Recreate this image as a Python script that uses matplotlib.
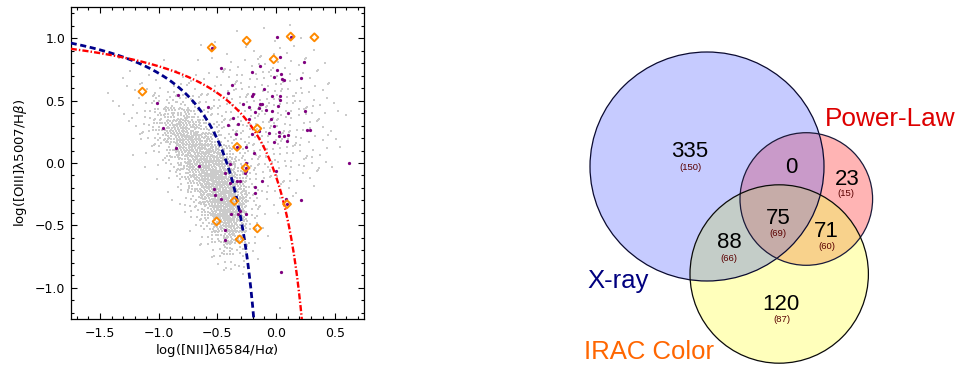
import numpy as np
import matplotlib
matplotlib.use("Agg")
import matplotlib.pyplot as plt
from matplotlib.patches import Ellipse, Polygon
from matplotlib.ticker import MultipleLocator

plt.rcParams["font.family"] = ["DejaVu Sans"]
plt.rcParams["mathtext.fontset"] = "custom"
plt.rcParams["mathtext.rm"] = "DejaVu Sans"
plt.rcParams["mathtext.it"] = "DejaVu Sans:italic"

# ---------------------------------------------------------------- BPT data
# background emission-line galaxies: counts per 0.1 x 0.1 dex cell
cloud_x = [-1.7, -1.6, -1.5, -1.4, -1.3, -1.2, -1.1, -1.0, -0.9, -0.8, -0.7, -0.6, -0.5,
           -0.4, -0.3, -0.2, -0.1, 0.0, 0.1, 0.2, 0.3, 0.4, 0.5, 0.6, 0.7]
cloud_y = [1.2, 1.1, 1.0, 0.9, 0.8, 0.7, 0.6, 0.5, 0.4, 0.3, 0.2, 0.1, 0.0,
           -0.1, -0.2, -0.3, -0.4, -0.5, -0.6, -0.7, -0.8, -0.9, -1.0, -1.1, -1.2]
cloud_counts = [
    [0, 0, 0, 0, 0, 0, 0, 0, 0, 0, 0, 0, 0, 0, 0, 0, 0, 0, 0, 0, 0, 0, 0, 0, 0],
    [0, 0, 0, 0, 0, 0, 0, 0, 0, 0, 0, 0, 0, 0, 1, 0, 1, 0, 1, 0, 0, 0, 0, 0, 0],
    [0, 0, 0, 0, 0, 0, 0, 0, 0, 0, 0, 0, 1, 0, 0, 1, 0, 1, 0, 1, 0, 0, 0, 0, 0],
    [0, 0, 0, 0, 0, 0, 0, 0, 0, 0, 0, 1, 0, 1, 1, 2, 1, 2, 1, 1, 1, 0, 0, 0, 0],
    [0, 0, 0, 0, 1, 0, 0, 1, 0, 0, 1, 0, 1, 2, 2, 2, 3, 2, 2, 2, 1, 1, 0, 0, 0],
    [0, 0, 0, 0, 1, 1, 1, 1, 1, 1, 2, 2, 2, 3, 3, 3, 3, 3, 3, 2, 2, 1, 0, 0, 0],
    [0, 0, 0, 1, 1, 2, 2, 2, 3, 3, 2, 3, 3, 3, 4, 4, 4, 4, 3, 3, 2, 2, 1, 0, 0],
    [0, 0, 0, 1, 1, 2, 3, 5, 8, 8, 5, 4, 4, 4, 4, 4, 5, 5, 4, 3, 3, 2, 1, 0, 0],
    [0, 0, 0, 0, 1, 2, 4, 10, 18, 18, 12, 7, 5, 4, 4, 5, 5, 5, 4, 3, 3, 2, 1, 1, 0],
    [0, 0, 0, 0, 1, 1, 4, 12, 26, 32, 24, 13, 7, 5, 5, 5, 5, 5, 4, 3, 3, 2, 1, 0, 0],
    [0, 0, 0, 0, 0, 1, 3, 8, 22, 36, 38, 27, 13, 7, 5, 5, 5, 5, 4, 3, 2, 2, 1, 0, 0],
    [0, 0, 0, 0, 0, 1, 2, 4, 12, 30, 42, 42, 30, 13, 7, 5, 5, 4, 4, 3, 2, 2, 1, 0, 0],
    [0, 0, 0, 0, 0, 0, 1, 2, 6, 18, 38, 50, 48, 28, 11, 6, 5, 5, 4, 3, 3, 2, 1, 0, 0],
    [0, 0, 0, 0, 0, 0, 0, 1, 3, 10, 28, 50, 56, 42, 16, 6, 4, 3, 3, 2, 2, 1, 0, 0, 0],
    [0, 0, 0, 0, 0, 0, 0, 0, 1, 5, 15, 40, 56, 56, 26, 6, 3, 2, 2, 1, 1, 0, 0, 0, 0],
    [0, 0, 0, 0, 0, 0, 0, 0, 1, 3, 8, 28, 52, 58, 32, 7, 2, 2, 1, 0, 0, 0, 0, 0, 0],
    [0, 0, 0, 0, 0, 0, 0, 0, 0, 1, 5, 15, 42, 54, 30, 5, 2, 1, 0, 0, 0, 0, 0, 0, 0],
    [0, 0, 0, 0, 0, 0, 0, 0, 0, 0, 2, 8, 26, 44, 24, 4, 1, 0, 0, 0, 0, 0, 0, 0, 0],
    [0, 0, 0, 0, 0, 0, 0, 0, 0, 0, 0, 4, 13, 30, 16, 3, 1, 0, 0, 0, 0, 0, 0, 0, 0],
    [0, 0, 0, 0, 0, 0, 0, 0, 0, 0, 0, 1, 5, 13, 7, 2, 0, 1, 0, 0, 0, 0, 0, 0, 0],
    [0, 0, 0, 0, 0, 0, 0, 0, 0, 0, 0, 0, 2, 5, 3, 1, 0, 0, 0, 0, 0, 0, 0, 0, 0],
    [0, 0, 0, 0, 0, 0, 0, 0, 0, 0, 0, 0, 0, 1, 1, 0, 0, 0, 0, 0, 0, 0, 0, 0, 0],
    [0, 0, 0, 0, 0, 0, 0, 0, 0, 0, 0, 0, 0, 0, 0, 0, 0, 0, 0, 0, 0, 0, 0, 0, 0],
    [0, 0, 0, 0, 0, 0, 0, 0, 0, 0, 0, 0, 0, 0, 0, 0, 0, 0, 0, 0, 0, 0, 0, 0, 0],
    [0, 0, 0, 0, 0, 0, 0, 0, 0, 0, 0, 0, 0, 0, 0, 0, 0, 0, 0, 0, 0, 0, 0, 0, 0],
]

# AGN candidates (log [NII]/Ha, log [OIII]/Hb)
agn_x = [0.006, 0.037, 0.241, -0.134, 0.006, -0.205, 0.045, 0.048, 0.071, 0.210,
         -0.020, -0.469, -0.378, -0.409, -0.193, -0.207, -0.037, 0.031, -0.102, 0.031,
         -0.284, -0.134, -0.119, 0.020, -0.148, -0.227, -0.085, -0.037, -0.182, 0.105,
         0.244, -0.364, -0.043, -0.230, -0.321, -0.406, -0.017, 0.261, 0.293, 0.028,
         -0.142, 0.102, -0.057, 0.065, 0.023, -0.341, -0.207, -0.014, 0.091, -0.188,
         0.625, -0.256, -0.389, -0.855, -0.653, -0.256, -0.438, -0.261, -0.330, -0.310,
         -0.389, -0.119, -0.176, -0.182, -0.526, -0.523, -0.466, -0.307, -0.381, -0.327,
         -0.256, -0.438, -0.438, -0.832, -1.017, -0.577, -0.960, 0.000, 0.216, 0.088,
         0.040, -0.259, -0.548, 0.125, -0.332, -0.259, 0.094]
agn_y = [1.007, 0.850, 0.807, 0.775, 0.748, 0.730, 0.716, 0.676, 0.668, 0.682,
         0.690, 0.764, 0.623, 0.562, 0.556, 0.540, 0.535, 0.535, 0.591, 0.503,
         0.474, 0.471, 0.471, 0.460, 0.444, 0.452, 0.428, 0.415, 0.412, 0.404,
         0.418, 0.359, 0.351, 0.351, 0.311, 0.303, 0.295, 0.268, 0.268, 0.249,
         0.255, 0.223, 0.239, 0.215, 0.217, 0.231, 0.231, 0.172, 0.175, 0.084,
         -0.004, 0.001, -0.012, 0.119, -0.025, 0.127, -0.079, -0.079, -0.143, -0.146,
         -0.159, -0.143, -0.196, -0.244, -0.212, -0.260, -0.287, -0.383, -0.410, -0.410,
         -0.410, -0.533, -0.618, 0.545, 0.484, 0.452, 0.284, -0.065, -0.300, -0.289,
         -0.876, -0.063, 0.925, 1.013, 0.129, -0.039, -0.330]

# IRAC-colour selected sources
irac_x = [-0.548, -0.250, 0.125, 0.327, -0.020, -1.139, -0.159, -0.332, -0.259,
          -0.355, -0.506, -0.159, -0.310, 0.094]
irac_y = [0.925, 0.980, 1.013, 1.007, 0.831, 0.572, 0.276, 0.129, -0.039,
          -0.305, -0.468, -0.524, -0.612, -0.330]

# demarcation curves  y = a / (x - b) + c
kauffmann = (0.61, 0.05, 1.30)
kewley = (0.61, 0.47, 1.19)

# ---------------------------------------------------------------- Venn data
venn_counts = {"x": 335, "p": 23, "i": 120, "xp": 0, "xi": 88, "pi": 71, "xpi": 75}
venn_sub = {"x": 150, "p": 15, "i": 87, "xi": 66, "pi": 60, "xpi": 69}

fig = plt.figure(figsize=(9.62, 3.66), dpi=100)

# ================================================================ left panel
ax = fig.add_axes([70.7 / 962, 1 - 319 / 366, 293.3 / 962, 312 / 366], zorder=2)
ax.set_xlim(-1.75, 0.75)
ax.set_ylim(-1.25, 1.25)

# ordered (Bayer) stippling of the galaxy density cells, with a golden-ratio
# sub-cell offset so the stipple does not sit on a visible lattice
bayer = np.array([[0]])
while bayer.shape[0] < 8:
    b = bayer
    bayer = np.block([[4 * b, 4 * b + 2], [4 * b + 3, 4 * b + 1]])
cell = 0.1
sub = bayer.shape[0]
phi = 0.6180339887
gx, gy = [], []
for r, row in enumerate(cloud_counts):
    for c, n in enumerate(row):
        if n == 0:
            continue
        pat = np.roll(np.roll(bayer, (3 * c + 5 * r) % sub, 0), (5 * c + 3 * r) % sub, 1)
        ii, jj = np.nonzero(pat < n)
        rank = pat[ii, jj] + 64 * (r * 25 + c)
        ox = (rank * phi) % 1.0 - 0.5
        oy = (rank * phi * phi) % 1.0 - 0.5
        gx.extend(cloud_x[c] - cell / 2 + (jj + 0.5 + 0.8 * ox) * cell / sub)
        gy.extend(cloud_y[r] + cell / 2 - (ii + 0.5 + 0.8 * oy) * cell / sub)
ax.scatter(gx, gy, s=0.9, marker="s", color="#cbcbcb", linewidths=0, zorder=1)

xk = np.linspace(-1.75, -0.16, 400)
ax.plot(xk, kauffmann[0] / (xk - kauffmann[1]) + kauffmann[2], color="#00008b",
        lw=2.0, dashes=(2.2, 1.3), zorder=3)
xw = np.linspace(-1.75, 0.24, 400)
ax.plot(xw, kewley[0] / (xw - kewley[1]) + kewley[2], color="#ff0000",
        lw=1.7, dashes=(2.6, 0.9, 0.6, 0.9), zorder=3)

ax.scatter(agn_x, agn_y, s=5.5, color="#7f007f", linewidths=0, zorder=4)
ax.scatter(irac_x, irac_y, s=16, marker="D", facecolors="none",
           edgecolors="#ff8a00", linewidths=1.4, zorder=5)

ax.xaxis.set_major_locator(MultipleLocator(0.5))
ax.xaxis.set_minor_locator(MultipleLocator(0.1))
ax.yaxis.set_major_locator(MultipleLocator(0.5))
ax.yaxis.set_minor_locator(MultipleLocator(0.1))
ax.tick_params(which="both", direction="in", top=True, right=True, labelsize=9,
               color="black", width=0.8)
ax.tick_params(which="major", length=4.5, pad=6)
ax.tick_params(which="minor", length=2.2)
ax.tick_params(axis="y", which="major", pad=4)
for sp in ax.spines.values():
    sp.set_linewidth(0.9)
ax.set_xlabel("log([NII]λ6584/H$\\alpha$)", fontsize=9.5, labelpad=1)
ax.set_ylabel("log([OIII]λ5007/H$\\beta$)", fontsize=9.5, labelpad=4)

# ================================================================ right panel
av = fig.add_axes([0, 0, 1, 1], zorder=1)
av.set_xlim(0, 962)
av.set_ylim(366, 0)
av.axis("off")

shapes = {
    "x": (707.0, 166.5, 117.0, 114.5),
    "p": (806.3, 199.0, 66.3, 66.3),
    "i": (779.2, 274.0, 89.2, 89.2),
}
region_colors = {
    "x": "#c6cbff", "p": "#ffb4b4", "i": "#ffffbb",
    "xp": "#c99ac9", "xi": "#c4cdc8", "pi": "#f8d28c", "xpi": "#c6aca8",
}


def inside(pts, shp):
    cx, cy, a, b = shp
    return ((pts[:, 0] - cx) / a) ** 2 + ((pts[:, 1] - cy) / b) ** 2 <= 1.0 + 1e-9


def overlap(keys):
    t = np.linspace(0, 2 * np.pi, 1440, endpoint=False)
    pts = []
    for k in keys:
        cx, cy, a, b = shapes[k]
        ring = np.c_[cx + a * np.cos(t), cy + b * np.sin(t)]
        keep = np.ones(len(ring), bool)
        for o in keys:
            if o != k:
                keep &= inside(ring, shapes[o])
        pts.append(ring[keep])
    pts = np.vstack(pts)
    ctr = pts.mean(axis=0)
    order = np.argsort(np.arctan2(pts[:, 1] - ctr[1], pts[:, 0] - ctr[0]))
    return pts[order]


for k in ["x", "p", "i"]:
    cx, cy, a, b = shapes[k]
    av.add_patch(Ellipse((cx, cy), 2 * a, 2 * b, facecolor=region_colors[k],
                         edgecolor="none", zorder=1))
for keys in ["xp", "xi", "pi", "xpi"]:
    av.add_patch(Polygon(overlap(list(keys)), closed=True, facecolor=region_colors[keys],
                         edgecolor="none", zorder=2))
edge_cols = {"x": "#0a0a30", "p": "#1a1a3a", "i": "#0a0a0a"}
for k in ["x", "p", "i"]:
    cx, cy, a, b = shapes[k]
    av.add_patch(Ellipse((cx, cy), 2 * a, 2 * b, facecolor="none",
                         edgecolor=edge_cols[k], lw=0.9, zorder=3))

num_pos = {"x": (690, 156.7), "xp": (791, 172.7), "p": (847.5, 185), "xpi": (778.3, 224),
           "pi": (826.5, 237.3), "xi": (729.2, 248.3), "i": (781.3, 310)}
sub_pos = {"x": (690.5, 167), "p": (846, 194), "xpi": (778.3, 233),
           "pi": (826.7, 246.5), "xi": (729.3, 258.5), "i": (781.7, 319.5)}
for k, (px, py) in num_pos.items():
    av.text(px, py, str(venn_counts[k]), ha="center", va="baseline", fontsize=16,
            family="Liberation Sans", color="black", zorder=4)
for k, (px, py) in sub_pos.items():
    av.text(px, py, f"({venn_sub[k]})", ha="center", va="center", fontsize=6.8,
            family="Liberation Sans", color="#5a0000", zorder=4)

av.text(825, 126.5, "Power-Law", ha="left", va="baseline", fontsize=18.8,
        family="Liberation Sans", color="#dd0000")
av.text(587, 288.3, "X-ray", ha="left", va="baseline", fontsize=18.5,
        family="Liberation Sans", color="#00007f")
av.text(584, 359.3, "IRAC Color", ha="left", va="baseline", fontsize=18.5,
        family="Liberation Sans", color="#ff6600")

fig.savefig("out.png", dpi=100)
